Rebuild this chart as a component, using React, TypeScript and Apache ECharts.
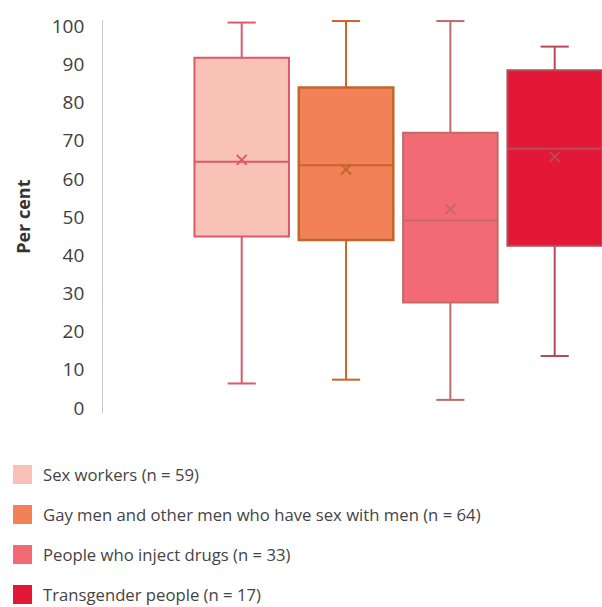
import React, { useEffect, useRef } from "react";
import * as echarts from "echarts";

const categories = [
  "Sex workers (n = 59)",
  "Gay men and other men who have sex with men (n = 64)",
  "People who inject drugs (n = 33)",
  "Transgender people (n = 17)",
];
// [min, q1, median, q3, max, mean]
const mins = [6.3, 7.3, 2.0, 13.5];
const q1s = [44.8, 43.9, 27.5, 42.4];
const medians = [64.4, 63.5, 49.0, 67.8];
const q3s = [91.7, 83.9, 72.0, 88.4];
const maxs = [100.9, 101.3, 101.3, 94.6];
const means = [64.9, 62.4, 52.0, 65.7];
const yTicks = [0, 10, 20, 30, 40, 50, 60, 70, 80, 90, 100];

const fills = ["#F9C2B6", "#F28157", "#F26A74", "#E31837"];
const strokes = ["#DA5A68", "#C4662A", "#C26A68", "#B84A58"];
const strokeWidths = [2, 2.5, 2, 2];

export default function App() {
  const ref = useRef<HTMLDivElement>(null);
  useEffect(() => {
    if (!ref.current) return;
    const chart = echarts.init(ref.current, null, { renderer: "svg" });
    const series = categories.map((name, i) => ({
      name,
      type: "custom",
      clip: false,
      itemStyle: { color: fills[i] },
      data: [[i, mins[i], q1s[i], medians[i], q3s[i], maxs[i], means[i]]],
      renderItem: (params: any, api: any) => {
        const cat = api.value(0);
        const pMin = api.coord([cat, api.value(1)]);
        const pQ1 = api.coord([cat, api.value(2)]);
        const pMed = api.coord([cat, api.value(3)]);
        const pQ3 = api.coord([cat, api.value(4)]);
        const pMax = api.coord([cat, api.value(5)]);
        const pMean = api.coord([cat, api.value(6)]);
        const band = api.size([1, 0])[0];
        const bw = band * 0.906;
        const cw = band * 0.27;
        const x = pMed[0];
        const s = strokes[i];
        const lw = strokeWidths[i];
        const ls = { stroke: s, lineWidth: 2 };
        const xs = 5;
        return {
          type: "group",
          children: [
            { type: "line", shape: { x1: x, y1: pMax[1], x2: x, y2: pQ3[1] }, style: ls },
            { type: "line", shape: { x1: x, y1: pQ1[1], x2: x, y2: pMin[1] }, style: ls },
            { type: "line", shape: { x1: x - cw / 2, y1: pMax[1], x2: x + cw / 2, y2: pMax[1] }, style: ls },
            { type: "line", shape: { x1: x - cw / 2, y1: pMin[1], x2: x + cw / 2, y2: pMin[1] }, style: ls },
            {
              type: "rect",
              shape: { x: x - bw / 2, y: pQ3[1], width: bw, height: pQ1[1] - pQ3[1] },
              style: { fill: fills[i], stroke: s, lineWidth: lw },
            },
            { type: "line", shape: { x1: x - bw / 2, y1: pMed[1], x2: x + bw / 2, y2: pMed[1] }, style: ls },
            { type: "line", shape: { x1: x - xs, y1: pMean[1] - xs, x2: x + xs, y2: pMean[1] + xs }, style: ls },
            { type: "line", shape: { x1: x - xs, y1: pMean[1] + xs, x2: x + xs, y2: pMean[1] - xs }, style: ls },
          ],
        };
      },
    }));
    chart.setOption({
      animation: false,
      grid: { left: 241.7, top: 20.7, right: 47.3, height: 392 },
      xAxis: {
        type: "category",
        data: categories,
        boundaryGap: false,
        show: false,
      },
      yAxis: {
        type: "value",
        min: -1.36,
        max: 101.39,
        offset: 139.4,
        name: "Per cent",
        nameLocation: "middle",
        nameGap: 70,
        nameRotate: 90,
        nameTextStyle: { fontFamily: "Open Sans", fontWeight: "bold", fontSize: 18, color: "#333" },
        axisLine: { show: true, lineStyle: { color: "#c8c8c8", width: 1 } },
        axisTick: { show: false },
        splitLine: { show: false },
        axisLabel: {
          customValues: yTicks,
          margin: 18,
          fontFamily: "Open Sans",
          fontSize: 19,
          color: "#404040",
        },
      },
      legend: {
        orient: "vertical",
        left: 8,
        top: 460,
        height: 300,
        itemWidth: 19,
        itemHeight: 19,
        itemGap: 21,
        icon: "rect",
        data: categories,
        textStyle: {
          fontFamily: "Open Sans",
          fontSize: 16.7,
          color: "#444",
          padding: [0, 0, 0, 6],
        },
      },
      series,
    });
    return () => chart.dispose();
  }, []);
  return (
    <div
      ref={ref}
      style={{ position: "absolute", left: 0, top: 0, width: 602, height: 607 }}
    />
  );
}
